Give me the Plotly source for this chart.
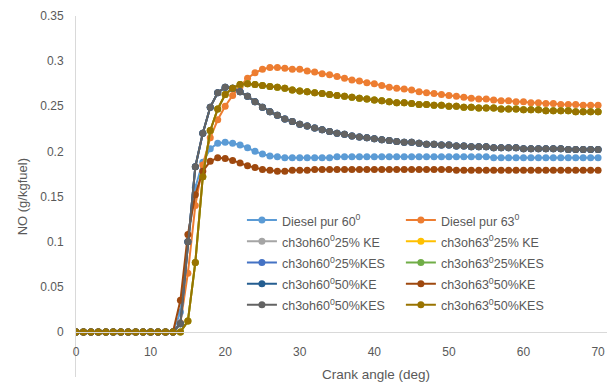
import plotly.graph_objects as go

crank_angle = list(range(71))

zeros13 = [0.0] * 14  # 0..13 deg

diesel_60 = zeros13 + [
    0.022, 0.100, 0.160, 0.188, 0.203, 0.209, 0.210, 0.209, 0.207, 0.204,   # 14-23
    0.200, 0.197, 0.195, 0.194, 0.193, 0.193, 0.193, 0.193, 0.193, 0.193,   # 24-33
    0.193, 0.194, 0.194, 0.194, 0.194, 0.194, 0.194, 0.194, 0.194, 0.194,   # 34-43
    0.194, 0.194, 0.194, 0.194, 0.194, 0.194, 0.194, 0.194, 0.194, 0.194,   # 44-53
    0.194, 0.194, 0.193, 0.193, 0.193, 0.193, 0.193, 0.193, 0.193, 0.193,   # 54-63
    0.193, 0.193, 0.193, 0.193, 0.193, 0.193, 0.193]                      # 64-70

diesel_63 = zeros13 + [
    0.010, 0.065, 0.140, 0.185, 0.215, 0.235, 0.250, 0.262, 0.272, 0.281,   # 14-23
    0.287, 0.291, 0.293, 0.293, 0.292, 0.291, 0.291, 0.289, 0.288, 0.286,   # 24-33
    0.285, 0.283, 0.281, 0.279, 0.278, 0.276, 0.275, 0.273, 0.271, 0.270,   # 34-43
    0.269, 0.268, 0.266, 0.265, 0.264, 0.263, 0.262, 0.261, 0.260, 0.259,   # 44-53
    0.258, 0.258, 0.257, 0.256, 0.256, 0.255, 0.255, 0.254, 0.254, 0.253,   # 54-63
    0.253, 0.252, 0.252, 0.252, 0.251, 0.251, 0.251]                      # 64-70

ch3oh60_50_kes = zeros13 + [
    0.009, 0.100, 0.183, 0.220, 0.249, 0.265, 0.271, 0.270, 0.266, 0.261,   # 14-23
    0.255, 0.249, 0.244, 0.240, 0.236, 0.233, 0.230, 0.228, 0.226, 0.224,   # 24-33
    0.222, 0.220, 0.219, 0.217, 0.216, 0.215, 0.214, 0.213, 0.212, 0.211,   # 34-43
    0.210, 0.210, 0.209, 0.208, 0.208, 0.207, 0.207, 0.206, 0.206, 0.205,   # 44-53
    0.205, 0.205, 0.204, 0.204, 0.204, 0.204, 0.203, 0.203, 0.203, 0.203,   # 54-63
    0.203, 0.203, 0.202, 0.202, 0.202, 0.202, 0.202]                      # 64-70

ch3oh63_50_ke = zeros13 + [
    0.035, 0.108, 0.152, 0.178, 0.189, 0.193, 0.192, 0.190, 0.187, 0.184,   # 14-23
    0.182, 0.180, 0.179, 0.178, 0.178, 0.179, 0.179, 0.179, 0.180, 0.180,   # 24-33
    0.180, 0.180, 0.180, 0.180, 0.180, 0.180, 0.180, 0.180, 0.180, 0.180,   # 34-43
    0.180, 0.180, 0.180, 0.180, 0.180, 0.180, 0.180, 0.179, 0.179, 0.179,   # 44-53
    0.179, 0.179, 0.179, 0.179, 0.179, 0.179, 0.179, 0.179, 0.179, 0.179,   # 54-63
    0.179, 0.179, 0.179, 0.179, 0.179, 0.179, 0.179]                      # 64-70

ch3oh63_50_kes = zeros13 + [
    0.000, 0.012, 0.077, 0.172, 0.223, 0.247, 0.263, 0.270, 0.274, 0.275,   # 14-23
    0.274, 0.273, 0.272, 0.271, 0.270, 0.268, 0.267, 0.266, 0.265, 0.264,   # 24-33
    0.263, 0.262, 0.261, 0.260, 0.259, 0.258, 0.257, 0.256, 0.255, 0.254,   # 34-43
    0.254, 0.253, 0.252, 0.252, 0.251, 0.251, 0.250, 0.250, 0.249, 0.249,   # 44-53
    0.248, 0.248, 0.248, 0.247, 0.247, 0.247, 0.246, 0.246, 0.246, 0.245,   # 54-63
    0.245, 0.245, 0.245, 0.244, 0.244, 0.244, 0.244]                      # 64-70

# Series fully hidden beneath later-drawn curves in the reference
ch3oh60_25_ke = ch3oh60_50_kes
ch3oh63_25_ke = ch3oh63_50_kes
ch3oh60_25_kes = ch3oh60_50_kes
ch3oh63_25_kes = ch3oh63_50_kes
ch3oh60_50_ke = ch3oh60_50_kes

series_names = [
    "Diesel pur 60<sup>0</sup>", "Diesel pur 63<sup>0</sup>",
    "ch3oh60<sup>0</sup>25% KE", "ch3oh63<sup>0</sup>25% KE",
    "ch3oh60<sup>0</sup>25%KES", "ch3oh63<sup>0</sup>25%KES",
    "ch3oh60<sup>0</sup>50%KE", "ch3oh63<sup>0</sup>50%KE",
    "ch3oh60<sup>0</sup>50%KES", "ch3oh63<sup>0</sup>50%KES",
]
series_values = [
    diesel_60, diesel_63,
    ch3oh60_25_ke, ch3oh63_25_ke,
    ch3oh60_25_kes, ch3oh63_25_kes,
    ch3oh60_50_ke, ch3oh63_50_ke,
    ch3oh60_50_kes, ch3oh63_50_kes,
]
series_colors = [
    "#5B9BD5", "#ED7D31", "#A5A5A5", "#FFC000", "#4472C4",
    "#70AD47", "#255E91", "#9E480E", "#636363", "#997300",
]
# left legend column: 60° series, right column: 63° series
series_legend = ["legend", "legend2"] * 5

x_ticks = [0, 10, 20, 30, 40, 50, 60, 70]
y_ticks = [-0.05, 0, 0.05, 0.1, 0.15, 0.2, 0.25, 0.3, 0.35]
y_tick_text = ["-0.05", "0", "0.05", "0.1", "0.15", "0.2", "0.25", "0.3", "0.35"]

FONT = "Liberation Sans"
GREY = "#595959"

fig = go.Figure()
for name, vals, col, leg in zip(series_names, series_values, series_colors, series_legend):
    fig.add_trace(go.Scatter(
        x=crank_angle, y=vals,
        name='<span style="font-size:12.5px">' + name + '</span>',
        mode="lines+markers", legend=leg,
        line=dict(color=col, width=2),
        marker=dict(color=col, size=7, symbol="circle"),
    ))

legend_style = dict(
    orientation="v", yanchor="top", xanchor="left", y=0.478,
    font=dict(family=FONT, size=14, color=GREY),
    bgcolor="rgba(0,0,0,0)", traceorder="normal",
)

# The page body adds an 8px offset, so the figure is 8px smaller.
fig.update_layout(
    width=607, height=376,
    margin=dict(l=68, r=2, t=8, b=7, autoexpand=False),
    paper_bgcolor="white", plot_bgcolor="white",
    font=dict(family=FONT, color=GREY, size=12),
    showlegend=True,
    legend=dict(x=0.309, **legend_style),
    legend2=dict(x=0.605, **legend_style),
    xaxis=dict(
        range=[0, 72], tickvals=x_ticks, ticktext=[str(v) for v in x_ticks],
        showgrid=False, zeroline=False, showline=True, linecolor="#D9D9D9",
        linewidth=1, anchor="free", position=0.125, ticks="",
        tickfont=dict(size=12, color=GREY), ticklabelstandoff=9,
        automargin=False,
    ),
    yaxis=dict(
        range=[-0.05, 0.35], tickvals=y_ticks, ticktext=y_tick_text,
        showgrid=False, zeroline=False, showline=True, linecolor="#D9D9D9",
        linewidth=1, ticks="", tickfont=dict(size=12, color=GREY),
        ticklabelstandoff=9, automargin=False,
    ),
    annotations=[
        dict(text="Crank angle (deg)", xref="paper", yref="paper",
             x=0.559, y=0.008, xanchor="center", yanchor="middle",
             showarrow=False, font=dict(size=13.5, color=GREY, family=FONT)),
        dict(text="NO (g/kgfuel)", xref="paper", yref="paper",
             x=-0.099, y=0.5, xanchor="center", yanchor="middle",
             textangle=-90, showarrow=False,
             font=dict(size=13, color=GREY, family=FONT)),
    ],
)

fig.write_html("out.html")
